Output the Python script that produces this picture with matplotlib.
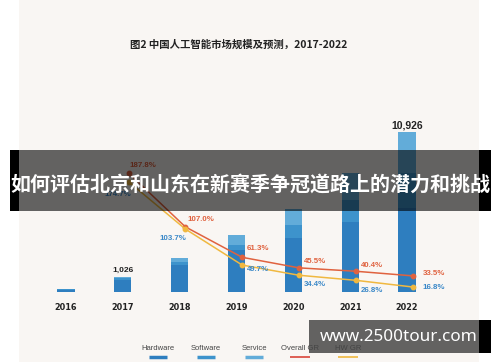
import matplotlib.pyplot as plt
from matplotlib.patches import Rectangle
from matplotlib.lines import Line2D

years = ["2016", "2017", "2018", "2019", "2020", "2021", "2022"]
hardware = [160, 820, 1850, 2870, 3690, 4780, 5740]
software = [30, 110, 230, 340, 890, 1500, 2400]
service = [20, 96, 240, 680, 1090, 1850, 2786]
bar_labels = {1: "1,026", 6: "10,926"}

gr_years = [1, 2, 3, 4, 5, 6]
overall_gr = [187.8, 107.0, 61.3, 45.5, 40.4, 33.5]
hw_gr = [174.7, 103.7, 49.7, 34.4, 26.8, 16.8]

legend_names = ["Hardware", "Software", "Service", "Overall GR", "HW GR"]

c_hw = "#2e7ebf"
c_sw = "#3d93cc"
c_sv = "#62acd9"
c_red = "#e0623f"
c_yel = "#f0b840"
c_blue_txt = "#3a88c8"

W, H = 500, 362
fig = plt.figure(figsize=(5, 3.62), dpi=100, facecolor="white")

# beige panel
bg = fig.add_axes([0, 0, 1, 1], zorder=0)
bg.set_xlim(0, W)
bg.set_ylim(H, 0)
bg.axis("off")
bg.add_patch(Rectangle((19, 0), 460, H, color="#f9f6f3", lw=0))

def px(x, y):
    return x / W, 1 - y / H

# bars
ax = fig.add_axes([37.6 / W, (H - 292) / H, 397.8 / W, 172 / H], zorder=1)
ax.patch.set_alpha(0)
xs = list(range(len(years)))
bw = 0.3
ax.bar(xs, hardware, bw, color=c_hw)
bot2 = [h for h in hardware]
ax.bar(xs, software, bw, bottom=bot2, color=c_sw)
bot3 = [h + s for h, s in zip(hardware, software)]
ax.bar(xs, service, bw, bottom=bot3, color=c_sv)
ax.set_xlim(-0.5, 6.5)
ax.set_ylim(0, 11748)
ax.set_yticks([])
ax.set_xticks(xs)
ax.set_xticklabels(years, family="DejaVu Sans", fontstretch="condensed",
                   fontweight="bold", fontsize=6.5, color="#222222")
ax.tick_params(axis="x", length=0, pad=8)
for s in ax.spines.values():
    s.set_visible(False)

totals = [h + s + v for h, s, v in zip(hardware, software, service)]
for i, lab in bar_labels.items():
    ax.annotate(lab, (i, totals[i]), textcoords="offset pixels", xytext=(0, 7),
                ha="center", va="center", fontweight="bold",
                fontsize=6 if i == 1 else 7.5, color="#222222",
                family="Liberation Sans")

# growth lines
ax2 = ax.twinx()
ax2.set_zorder(2)
ax2.patch.set_alpha(0)
ax2.set_ylim(9.3, 267.2)
ax2.set_yticks([])
for s in ax2.spines.values():
    s.set_visible(False)
gx = [g + 0.1 for g in gr_years]
ax2.plot(gx, overall_gr, color=c_red, lw=1.1, marker="o", ms=3.2)
ax2.plot(gx, hw_gr, color=c_yel, lw=1.1, marker="o", ms=3.2)

red_off = [(1, -7), (2, -7), (5, -9), (5, -6), (5, -6), (10, -2)]
blue_off = [(3, 13), (1, 9), (5, 4), (5, 9), (5, 10), (10, 1)]
for i in range(len(gx)):
    ax2.annotate("{:.1f}%".format(overall_gr[i]), (gx[i], overall_gr[i]),
                 textcoords="offset pixels", xytext=(red_off[i][0], -red_off[i][1]),
                 ha="left", va="center", fontsize=5.7, fontweight="bold",
                 color=c_red, family="Liberation Sans")
    ha = "right" if i < 2 else "left"
    ax2.annotate("{:.1f}%".format(hw_gr[i]), (gx[i], hw_gr[i]),
                 textcoords="offset pixels", xytext=(blue_off[i][0], -blue_off[i][1]),
                 ha=ha, va="center", fontsize=5.7, fontweight="bold",
                 color=c_blue_txt, family="Liberation Sans")

# title
fig.text(*px(239, 45), "图2 中国人工智能市场规模及预测，2017-2022", ha="center", va="center",
         fontsize=7.5, fontweight="bold", color="#222222",
         family=["Noto Sans CJK SC", "DejaVu Sans"])

# legend
ov = fig.add_axes([0, 0, 1, 1], zorder=3)
ov.set_xlim(0, W)
ov.set_ylim(H, 0)
ov.axis("off")
leg_x = [158, 206, 254, 300, 348]
leg_col = [c_hw, c_sw, c_sv, "#d9453a", c_yel]
leg_w = [18, 18, 18, 20, 20]
leg_lw = [2.5, 2.5, 2.5, 1.2, 1.2]
for name, x, c, w, lw in zip(legend_names, leg_x, leg_col, leg_w, leg_lw):
    ov.text(x, 348, name, ha="center", va="center", fontsize=5.5,
            color="#444444", family="Liberation Sans")
    ov.add_line(Line2D([x - w / 2, x + w / 2], [357, 357], color=c, lw=lw,
                       solid_capstyle="butt"))

# overlay band with headline
ov.add_patch(Rectangle((19, 150), 460, 61, color="black", alpha=0.6, lw=0))
ov.add_patch(Rectangle((10, 150), 9, 61, color="black", lw=0))
ov.add_patch(Rectangle((479, 150), 12, 61, color="black", lw=0))
ov.text(250, 184, "如何评估北京和山东在新赛季争冠道路上的潜力和挑战", ha="center",
        va="center", fontsize=14.4, fontweight="bold", color="white",
        family=["Noto Sans CJK SC", "DejaVu Sans"])

# watermark box
ov.add_patch(Rectangle((309, 320), 170, 33, color="black", alpha=0.6, lw=0))
ov.add_patch(Rectangle((479, 320), 12, 33, color="black", lw=0))
ov.text(399, 337, "www.2500tour.com", ha="center", va="center", fontsize=12.3,
        fontweight="bold", color="white", family="Noto Sans")

fig.savefig("out.png", dpi=100, facecolor="white")
